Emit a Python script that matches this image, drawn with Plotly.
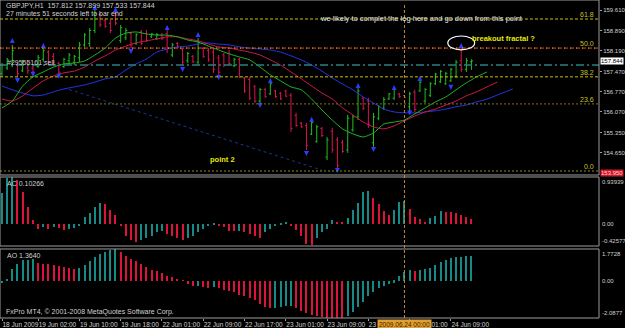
import plotly.graph_objects as go

# ---------------- data ----------------
opens = [157.40,157.60,157.80,157.70,157.50,157.75,157.60,157.65,157.90,158.15,
         158.00,157.75,157.65,157.85,157.80,157.95,158.40,158.45,158.90,159.45,
         159.25,159.15,159.50,158.55,158.65,158.80,158.45,158.85,158.80,158.68,
         158.62,158.75,158.80,158.05,158.45,158.25,157.85,158.00,157.80,158.28,
         158.20,158.15,157.95,158.05,158.10,157.68,157.90,157.25,157.20,156.95,
         156.45,156.85,156.70,156.80,156.72,156.80,156.65,155.95,155.68,155.60,
         155.30,155.05,155.50,154.50,155.40,155.10,155.00,154.75,155.45,155.90,
         156.55,156.45,155.00,155.85,156.20,156.52,156.55,156.70,156.64,156.25,
         156.75,156.80,156.45,156.65,157.05,157.12,157.05,157.15,157.30,157.85,
         157.55,157.812]
highs = [157.77,157.95,158.40,157.77,157.88,157.81,157.70,158.05,158.29,158.22,
         158.12,157.81,157.95,158.12,158.05,158.50,158.81,158.99,159.61,159.51,
         159.34,159.27,159.61,159.09,158.99,158.85,158.81,158.92,158.92,158.81,
         158.81,158.81,158.92,158.47,158.50,158.29,158.15,158.05,158.64,158.33,
         158.29,158.29,158.05,158.12,158.22,157.95,157.95,157.29,157.29,157.01,
         156.90,156.90,157.11,156.84,156.77,156.84,156.73,156.04,155.72,155.69,
         155.76,155.62,155.55,155.20,155.52,155.20,155.10,155.97,155.97,156.90,
         156.59,156.56,156.04,156.31,156.59,156.73,156.90,156.73,156.66,156.77,
         156.84,157.18,156.90,157.11,157.43,157.53,157.46,157.60,157.88,158.29,
         157.95,157.899]
lows = [157.29,157.53,157.63,157.29,157.46,157.39,157.36,157.60,157.81,157.70,
        157.67,157.36,157.60,157.70,157.70,157.81,158.33,158.33,158.81,159.02,
        158.99,158.81,159.09,158.47,158.57,158.29,158.40,158.40,158.50,158.64,
        158.57,158.57,158.12,157.98,158.29,157.70,157.77,157.77,157.70,157.95,
        157.81,157.43,157.32,157.63,157.70,157.63,157.25,156.73,156.49,156.38,
        156.35,156.56,156.66,156.56,156.49,156.59,155.38,155.55,155.52,154.75,
        155.27,155.00,155.20,154.40,154.65,153.99,154.65,154.65,155.38,155.79,
        156.14,155.52,154.86,155.79,156.14,156.49,156.49,156.56,156.56,156.07,
        156.07,156.77,156.38,156.59,157.01,157.08,157.01,157.11,157.25,157.46,
        157.46,157.533]
closes = [157.70,157.88,158.20,157.40,157.80,157.50,157.45,157.95,158.20,157.80,
          157.72,157.45,157.90,158.05,158.00,158.40,158.75,158.90,159.50,159.10,
          159.05,158.90,159.15,159.00,158.90,158.40,158.75,158.45,158.55,158.78,
          158.76,158.62,158.30,158.40,158.33,157.80,158.10,157.82,158.50,158.00,
          157.90,157.55,157.45,157.70,157.75,157.90,157.30,156.80,156.55,156.45,
          156.85,156.60,157.05,156.60,156.52,156.62,155.50,155.60,155.55,154.90,
          155.70,155.55,155.25,155.10,154.75,154.20,154.70,155.85,155.90,156.80,
          156.20,155.65,155.90,156.25,156.50,156.70,156.85,156.60,156.58,156.70,
          156.15,157.10,156.85,157.05,157.38,157.48,157.40,157.55,157.80,157.55,
          157.85,157.844]

# Alligator lines (sampled every 2 bars; bar index, price)
lips_idx = list(range(0, 95, 2))
lips_val = [156.21,156.45,156.97,157.29,157.46,157.63,157.74,157.77,157.84,158.05,
            158.29,158.64,158.81,158.85,158.78,158.74,158.74,158.68,158.57,158.50,
            158.36,158.22,158.09,157.98,157.88,157.63,157.36,157.15,156.94,156.84,
            156.52,156.14,155.79,155.48,155.31,155.20,155.34,155.65,155.72,155.79,
            156.00,156.21,156.42,156.59,156.84,157.08,157.29,157.46]
teeth_idx = list(range(0, 97, 2))
teeth_val = [156.52,156.45,156.63,156.90,157.15,157.32,157.43,157.49,157.63,157.84,
             158.02,158.22,158.36,158.47,158.54,158.61,158.68,158.68,158.61,158.54,
             158.43,158.33,158.29,158.22,158.15,158.05,157.88,157.70,157.46,157.22,
             156.97,156.73,156.52,156.21,155.97,155.72,155.55,155.48,155.59,155.76,
             155.93,156.07,156.17,156.31,156.45,156.63,156.77,156.94,157.11]
jaw_idx = list(range(0, 99, 2)) + [99]
jaw_val = [156.97,156.84,156.73,156.63,156.66,156.77,156.87,156.94,157.01,157.11,
           157.22,157.29,157.53,157.74,157.91,158.15,158.26,158.33,158.36,158.43,
           158.47,158.43,158.40,158.33,158.29,158.26,158.22,158.15,158.02,157.88,
           157.70,157.49,157.25,157.04,156.84,156.59,156.38,156.17,156.07,156.04,
           156.04,156.07,156.11,156.17,156.25,156.31,156.42,156.52,156.66,156.80,
           156.87]

# Fractals
fr_up_idx = [2, 8, 18, 22, 32, 38, 52, 60, 69, 76, 81, 89]
fr_up_val = [158.64,158.47,159.79,159.72,159.09,158.85,157.25,155.90,157.08,157.01,157.32,158.47]
fr_dn_idx = [3, 6, 11, 25, 35, 42, 50, 59, 65, 72, 79, 87]
fr_dn_val = [157.08,157.29,157.22,158.08,157.46,157.18,156.21,154.54,153.95,154.68,155.95,156.84]

# Oscillators
ac_vals = [0.62,0.92,0.94,0.88,0.65,0.35,0.08,-0.08,-0.05,-0.08,
           -0.05,-0.06,-0.10,-0.08,-0.06,-0.02,0.15,0.23,0.35,0.42,
           0.40,0.28,0.19,-0.03,-0.23,-0.30,-0.35,-0.30,-0.27,-0.23,
           -0.15,-0.12,-0.18,-0.23,-0.27,-0.30,-0.27,-0.23,-0.15,-0.08,
           -0.02,0.02,-0.02,-0.04,-0.12,-0.13,-0.12,-0.15,-0.19,-0.23,
           -0.27,-0.15,-0.08,-0.02,0.02,0.05,-0.03,-0.10,-0.23,-0.38,
           -0.41,-0.27,-0.15,-0.08,0.08,0.05,0.04,0.12,0.28,0.42,
           0.64,0.67,0.52,0.41,0.27,0.19,0.28,0.44,0.46,0.31,
           0.15,0.10,0.05,0.12,0.17,0.27,0.25,0.25,0.23,0.19,
           0.15,0.10266]
ao_vals = [-0.15,0.10,0.65,0.95,1.15,1.18,1.22,1.00,0.95,0.93,
           0.88,0.82,0.76,0.70,0.68,0.72,0.88,1.10,1.32,1.50,
           1.62,1.70,1.77,1.62,1.40,1.22,1.08,0.92,0.76,0.60,
           0.52,0.42,0.26,0.18,0.08,0.02,-0.18,-0.30,-0.28,-0.35,
           -0.40,-0.38,-0.42,-0.50,-0.56,-0.62,-0.78,-0.85,-0.95,-1.08,
           -1.28,-1.45,-1.55,-1.50,-1.46,-1.42,-1.40,-1.55,-1.68,-1.82,
           -1.94,-2.00,-2.04,-2.06,-2.07,-2.08,-2.0877,-1.98,-1.75,-1.48,
           -1.20,-0.85,-0.62,-0.40,-0.28,-0.16,-0.11,0.25,0.50,0.58,
           0.55,0.62,0.68,0.72,0.90,1.05,1.15,1.25,1.30,1.33,
           1.36,1.364]

# Levels / labels
fib_levels = [159.30, 158.29, 157.29, 156.35, 154.02]
fib_labels = ["61.8", "50.0", "38.2", "23.6", "0.0"]
sell_level = 157.70
trend_x = [13, 62]
trend_y = [156.85, 154.05]
price_ticks = [159.61, 158.89, 158.19, 157.47, 156.77, 156.07, 155.35, 154.65]
current_price = 157.844
low_mark = 153.95
ac_range = [-0.42577, 0.93939]
ao_range = [-2.0877, 1.7728]
xtick_idx = [0, 7, 15, 23, 31, 39, 47, 55, 63, 71, 79, 87]
xtick_text = ["18 Jun 2009", "19 Jun 02:00", "19 Jun 10:00", "19 Jun 18:00", "22 Jun 01:00",
              "22 Jun 09:00", "22 Jun 17:00", "23 Jun 01:00", "23 Jun 09:00", "23 Jun 17:00",
              "24 Jun 01:00", "24 Jun 09:00"]
cursor_idx = 78
cursor_text = "2009.06.24 00:00"

# ---------------- styling ----------------
FONT = "Liberation Sans"
TXT = "#d0d0d0"
BULL = "#1cc21c"
BEAR = "#dc1450"
OSC_UP = "#168a86"
OSC_DN = "#dc143c"
AX_FS = 6

idx = list(range(len(opens)))

def osc_colors(vals):
    cols = []
    for k, v in enumerate(vals):
        prev = vals[k - 1] if k > 0 else v - 1
        cols.append(OSC_UP if v > prev else OSC_DN)
    return cols

fig = go.Figure()

fig.add_trace(go.Scatter(x=trend_x, y=trend_y, mode="lines",
                         line=dict(color="#1b3590", width=1, dash="dot"),
                         hoverinfo="skip", xaxis="x", yaxis="y"))
fig.add_trace(go.Ohlc(x=idx, open=opens, high=highs, low=lows, close=closes,
                      increasing=dict(line=dict(color=BULL, width=1)),
                      decreasing=dict(line=dict(color=BEAR, width=1)),
                      tickwidth=0.3, hoverinfo="skip", xaxis="x", yaxis="y"))
for xs, ys, col in [(jaw_idx, jaw_val, "#2236e8"), (teeth_idx, teeth_val, "#d0184c"),
                    (lips_idx, lips_val, "#22b422")]:
    fig.add_trace(go.Scatter(x=xs, y=ys, mode="lines",
                             line=dict(color=col, width=1, shape="spline", smoothing=0.6),
                             hoverinfo="skip", xaxis="x", yaxis="y"))
fig.add_trace(go.Scatter(x=fr_up_idx, y=fr_up_val, mode="markers",
                         marker=dict(symbol="arrow-up", size=5, color="#2a3cff"),
                         hoverinfo="skip", xaxis="x", yaxis="y"))
fig.add_trace(go.Scatter(x=fr_dn_idx, y=fr_dn_val, mode="markers",
                         marker=dict(symbol="arrow-down", size=5, color="#2a3cff"),
                         hoverinfo="skip", xaxis="x", yaxis="y"))

fig.add_trace(go.Bar(x=idx, y=ac_vals, width=0.22, marker=dict(color=osc_colors(ac_vals), line_width=0),
                     hoverinfo="skip", xaxis="x2", yaxis="y2"))
fig.add_trace(go.Bar(x=idx, y=ao_vals, width=0.22, marker=dict(color=osc_colors(ao_vals), line_width=0),
                     hoverinfo="skip", xaxis="x3", yaxis="y3"))

XR = [-0.39, 115.7]
MAIN_DOM = [0.4497, 1.0]
AC_DOM = [0.2264, 0.4434]
AO_DOM = [0.0, 0.2170]

axis_common = dict(range=XR, showgrid=False, zeroline=False, fixedrange=True, automargin=False)
fig.update_layout(
    width=625, height=328,
    margin=dict(l=0, r=26, t=0, b=10),
    paper_bgcolor="black", plot_bgcolor="black",
    showlegend=False,
    font=dict(family=FONT, size=7, color=TXT),
    bargap=0,
    xaxis=dict(anchor="y", domain=[0, 1], showticklabels=False, rangeslider=dict(visible=False), **axis_common),
    xaxis2=dict(anchor="y2", domain=[0, 1], showticklabels=False, **axis_common),
    xaxis3=dict(anchor="y3", domain=[0, 1], tickvals=xtick_idx, ticktext=xtick_text,
                ticks="outside", ticklen=2, tickcolor="#a0a0a0", tickangle=0,
                ticklabelposition="outside right",
                tickfont=dict(size=6.5, color=TXT), **axis_common),
    yaxis=dict(domain=MAIN_DOM, range=[153.88, 159.96], side="right",
               tickvals=price_ticks, ticktext=[f"{v:.3f}" for v in price_ticks],
               ticks="outside", ticklen=2, tickcolor="#a0a0a0", automargin=False,
               tickfont=dict(size=AX_FS, color=TXT), showgrid=False, zeroline=False),
    yaxis2=dict(domain=AC_DOM, range=ac_range, side="right", showticklabels=False,
                showgrid=False, zeroline=False, automargin=False),
    yaxis3=dict(domain=AO_DOM, range=ao_range, side="right", showticklabels=False,
                showgrid=False, zeroline=False, automargin=False),
)

shapes = []
fib_styles = [("#c8c010", "3px,2px"), ("#e04818", "4px,2px"), ("#c8c010", "3px,2px"),
              ("#8a6a20", "2px,2px"), ("#9a8a18", "2px,2px")]
for lvl, (col, dsh) in zip(fib_levels, fib_styles):
    shapes.append(dict(type="line", xref="x domain", x0=0, x1=1, yref="y", y0=lvl, y1=lvl,
                       line=dict(color=col, width=1, dash=dsh)))
shapes.append(dict(type="line", xref="x domain", x0=0, x1=1, yref="y", y0=fib_levels[1], y1=fib_levels[1],
                   line=dict(color="#d8b020", width=1, dash="1px,5px")))
shapes.append(dict(type="line", xref="x domain", x0=0, x1=1, yref="y", y0=sell_level, y1=sell_level,
                   line=dict(color="#2a8080", width=1.5, dash="8px,3px,2px,3px")))
shapes.append(dict(type="line", xref="x", x0=cursor_idx, x1=cursor_idx, yref="paper", y0=0, y1=0.99,
                   line=dict(color="#c08838", width=1, dash="3px,2px")))
bf_i, bf_p = fr_up_idx[-1], fr_up_val[-1]
shapes.append(dict(type="circle", xref="x", yref="y", x0=bf_i - 2.6, x1=bf_i + 2.6,
                   y0=bf_p - 0.24, y1=bf_p + 0.24, line=dict(color="white", width=1.2)))
for xr, yr in [("x", "y"), ("x2", "y2"), ("x3", "y3")]:
    shapes.append(dict(type="rect", xref=f"{xr} domain", yref=f"{yr} domain", x0=0, x1=1, y0=0, y1=1,
                       line=dict(color="#9c9c9c", width=1)))
fig.update_layout(shapes=shapes)

ann = []
def txt(x, y, s, **kw):
    d = dict(x=x, y=y, xref="paper", yref="paper", text=s, showarrow=False,
             xanchor="left", yanchor="middle", font=dict(family=FONT, size=7, color=TXT))
    d.update(kw)
    ann.append(d)

txt(0.007, 0.984, "GBPJPY,H1  157.812 157.899 157.533 157.844")
txt(0.007, 0.959, "27 minutes 51 seconds left to bar end")
txt(0.008, 0.805, "#29555161 sell", font=dict(family=FONT, size=7, color="#c8c8c8"))
txt(0.531, 0.943, "we likely to complet the leg here and go down from this point",
    font=dict(family=FONT, size=7.5, color="#e8e8e8"))
txt(0.784, 0.880, "<b>breakout fractal ?</b>", font=dict(family=FONT, size=7.5, color="#e8e800"))
txt(0.347, 0.497, "<b>point 2</b>", font=dict(family=FONT, size=7.5, color="#e8e800"))
txt(0.008, 0.4245, f"AC {ac_vals[-1]:.5f}")
txt(0.008, 0.198, f"AO {ao_vals[-1]:.4f}")
txt(0.007, 0.019, "FxPro MT4, © 2001-2008 MetaQuotes Software Corp.")

for lvl, lab in zip(fib_levels, fib_labels):
    ann.append(dict(x=0.995, y=lvl, xref="paper", yref="y", text=lab, showarrow=False,
                    xanchor="right", yanchor="bottom", yshift=-1,
                    font=dict(family=FONT, size=7, color="#c8c020")))

for val, yr, anc in [(ac_range[1], "y2", "top"), (0.0, "y2", "middle"), (ac_range[0], "y2", "bottom"),
                     (ao_range[1], "y3", "top"), (0.0, "y3", "middle"), (ao_range[0], "y3", "bottom")]:
    if val == 0.0:
        s = "0.00"
    elif yr == "y2":
        s = f"{val:.5f}"
    else:
        s = f"{val:.4f}"
    ann.append(dict(x=1, y=val, xref="paper", yref=yr, text=s, showarrow=False,
                    xanchor="left", yanchor=anc, xshift=1,
                    font=dict(family=FONT, size=AX_FS, color=TXT)))

ann.append(dict(x=1, y=current_price, xref="paper", yref="y", text=f"{current_price:.3f}",
                showarrow=False, xanchor="left", yanchor="middle", xshift=1,
                bgcolor="white", borderpad=0, font=dict(family=FONT, size=AX_FS, color="black")))
ann.append(dict(x=1, y=low_mark, xref="paper", yref="y", text=f"{low_mark:.3f}",
                showarrow=False, xanchor="left", yanchor="middle", xshift=1,
                bgcolor="#d01a2a", borderpad=0, font=dict(family=FONT, size=AX_FS, color="#ffd8d8")))
ann.append(dict(x=cursor_idx, y=0, xref="x3", yref="paper", text=cursor_text, showarrow=False,
                xanchor="center", yanchor="top", yshift=-1, bgcolor="#e0a030", borderpad=1,
                font=dict(family=FONT, size=6.5, color="#3a2000")))
fig.update_layout(annotations=ann)

fig.write_html("out.html")
